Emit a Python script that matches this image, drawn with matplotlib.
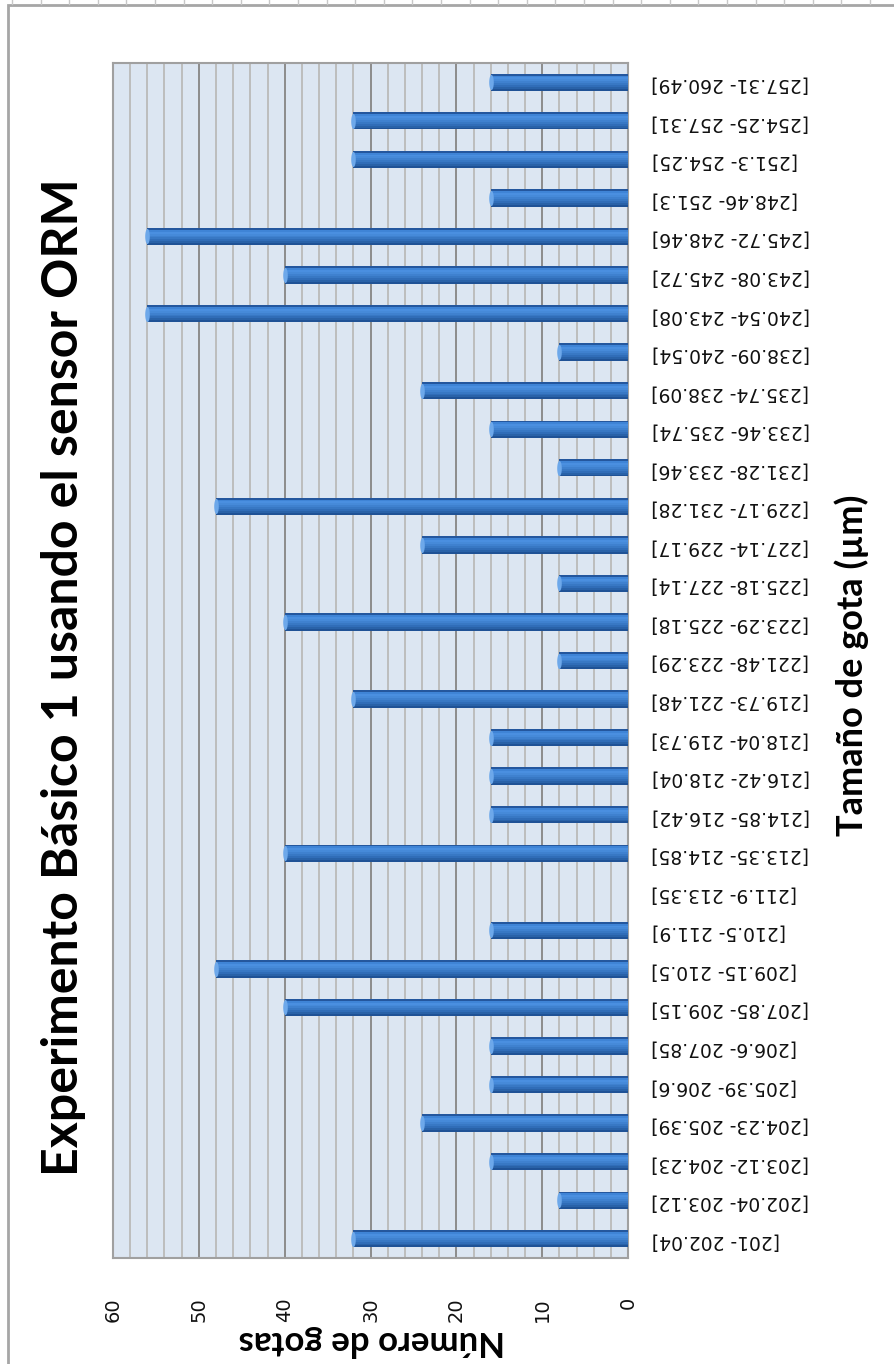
import matplotlib.pyplot as plt
import numpy as np
from matplotlib.patches import Rectangle
from matplotlib.path import Path

# Tamaño de gota (rangos en µm) y número de gotas en cada rango
rangos = ['[201- 202.04]', '[202.04- 203.12]', '[203.12- 204.23]', '[204.23- 205.39]',
          '[205.39- 206.6]', '[206.6- 207.85]', '[207.85- 209.15]', '[209.15- 210.5]',
          '[210.5- 211.9]', '[211.9- 213.35]', '[213.35- 214.85]', '[214.85- 216.42]',
          '[216.42- 218.04]', '[218.04- 219.73]', '[219.73- 221.48]', '[221.48- 223.29]',
          '[223.29- 225.18]', '[225.18- 227.14]', '[227.14- 229.17]', '[229.17- 231.28]',
          '[231.28- 233.46]', '[233.46- 235.74]', '[235.74- 238.09]', '[238.09- 240.54]',
          '[240.54- 243.08]', '[243.08- 245.72]', '[245.72- 248.46]', '[248.46- 251.3]',
          '[251.3- 254.25]', '[254.25- 257.31]', '[257.31- 260.49]']
gotas = [32, 8, 16, 24, 16, 16, 40, 48, 16, 0, 40, 16, 16, 16, 32, 8,
         40, 8, 24, 48, 8, 16, 24, 8, 56, 40, 56, 16, 32, 32, 16]
ticks_gotas = [0, 10, 20, 30, 40, 50, 60]

W, H = 895, 1364
fig = plt.figure(figsize=(W / 100, H / 100), dpi=100)
ax = fig.add_axes([113 / W, 106 / H, 515 / W, 1195 / H])
ax.set_facecolor('#dce6f2')

# rejilla vertical: cada 2 gotas, más oscura cada 10
for v in range(2, 60, 2):
    c = '#8c8c8c' if v % 10 == 0 else '#bdbdbd'
    ax.axvline(v, color=c, lw=1.4, zorder=1)

# barras con sombreado tipo cilindro
pos = np.arange(len(gotas))
alto = 0.45
tonos = ['#24579e', '#3f84d6', '#4a8fe0', '#468ad9', '#3f81cf',
         '#3878c4', '#306db8', '#2962a8', '#1f5296']
n = len(tonos)
for i, c in enumerate(tonos):
    off = alto / 2 - (i + 0.5) * alto / n
    ax.barh(pos + off, gotas, height=alto / n, color=c, lw=0, zorder=3)

# remate claro (elipse) en el extremo de cada barra
t = np.linspace(0, 2 * np.pi, 40)
elipse = Path(np.column_stack([0.3 * np.cos(t), np.sin(t)]), closed=True)
vals = np.array(gotas, dtype=float)
m = vals > 0
ax.scatter(vals[m], pos[m], s=120, marker=elipse, color='#6da8ea',
           lw=0, zorder=4)

ax.set_xlim(60, 0)
ax.set_ylim(-0.5, len(gotas) - 0.5)

ax.yaxis.tick_right()
ax.set_yticks(pos, rangos, rotation=180, fontsize=13.5, color='#111111')
ax.tick_params(axis='y', length=0, pad=17)
ax.set_xticks(ticks_gotas, [str(t) for t in ticks_gotas], rotation=90,
              fontsize=14, color='#111111')
ax.tick_params(axis='x', length=0, pad=28)

for s in ax.spines.values():
    s.set_color('#a0a0a0')
    s.set_linewidth(1.5)

fig.text(64 / W, 1 - 677 / H, 'Experimento Básico 1 usando el sensor ORM',
         rotation=90, ha='center', va='center', fontsize=36,
         fontweight='bold', family='Lato')
fig.text(852 / W, 1 - 665 / H, 'Tamaño de gota (µm)', rotation=90,
         ha='center', va='center', fontsize=26, fontweight='bold', family='Lato')
fig.text(372 / W, 1 - 1341 / H, 'Número de gotas', rotation=180,
         ha='center', va='center', fontsize=25, fontweight='bold', family='Lato')

# marco del gráfico y marcas de la hoja
fig.add_artist(Rectangle((8 / W, -0.1), 1.2, 1.1 - 5 / H, transform=fig.transFigure,
                         fill=False, ec='#a6a6a6', lw=2))
for x in np.arange(12, W, 28.6):
    fig.add_artist(plt.Line2D([x / W, x / W], [1 - 4 / H, 1], transform=fig.transFigure,
                              color='#c8c8c8', lw=1))

fig.savefig('out.png', dpi=100)
